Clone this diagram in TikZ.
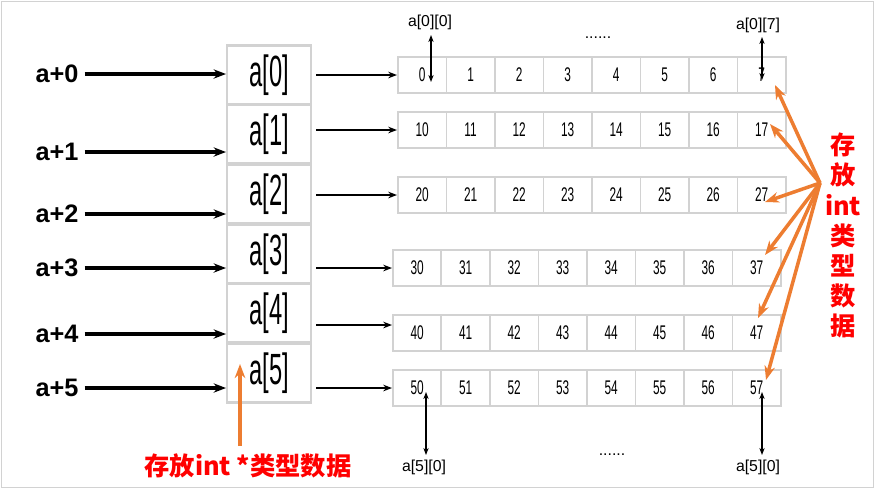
\documentclass[tikz,border=0pt]{standalone}
\usepackage{fontspec}
\setmainfont{Liberation Sans}
\newfontfamily\cjk{Noto Sans CJK SC}
\usetikzlibrary{arrows.meta,positioning,calc}
\definecolor{cellgray}{RGB}{210,210,210}
\definecolor{arroworange}{RGB}{237,125,49}
\tikzset{
  cellbox/.style={draw=cellgray, line width=1pt, minimum width=0.97cm, minimum height=0.72cm, inner sep=0pt, font=\small},
  ptrbox/.style={draw=cellgray, line width=1.2pt, minimum width=1.68cm, minimum height=1.18cm, inner sep=0pt, font=\huge},
  ptrlabel/.style={font=\Large\bfseries},
  thinarrow/.style={-{Stealth[length=5pt]}, line width=0.8pt},
  thickarrow/.style={-{Stealth[length=7pt]}, line width=2pt},
  dblarrow/.style={{Stealth[length=4pt]}-{Stealth[length=4pt]}, line width=0.8pt},
  orangearrow/.style={-{Stealth[length=8pt]}, line width=2pt, draw=arroworange},
  redtext/.style={text=red, font=\cjk\Large\bfseries}
}
\begin{document}
\begin{tikzpicture}[x=0.02cm, y=-0.02cm]
\useasboundingbox (0,0) rectangle (874,488);
\draw[cellgray] (1,1) rectangle (873,487);
% pointer column and the rows it points to
\foreach \i/\py/\ly/\ay/\rx/\ry in {0/75/74/75/397/75, 1/134/152/130/397/130, 2/194/214/195/397/195, 3/254/268/268/392/268, 4/313/334/325/392/333, 5/373/388/388/392/388}{
  \node[ptrbox] (p\i) at (269,\py) {\scalebox{0.65}[1.2]{a[\i]}};
  \node[ptrlabel] (l\i) at (57,\ly) {a+\i};
  \draw[thickarrow] (l\i.east) -- (226,\ly);
  \foreach \j in {0,...,7}{
    \node[cellbox, anchor=west] (c\i\j) at ({\rx+\j*48.5},\ry) {\scalebox{0.75}[1.25]{\ifnum\i=0 \j\else\i\j\fi}};
  }
  \draw[thinarrow] (316,\ay) -- (c\i0.west |- 0,\ay);
}
% corner elements
\node (t00) at (430,22) {\small a[0][0]};
\node (t07) at (758,25) {\small a[0][7]};
\node (b50) at (424,467) {\small a[5][0]};
\node (b57) at (758,467) {\small a[5][0]};
\node (dtop) at (598,38) {\small ......};
\node (dbot) at (612,455) {\small ......};
\draw[dblarrow] (431,35) -- (431,82);
\draw[dblarrow] (762,37) -- (762,80);
\draw[dblarrow] (426,392) -- (426,455);
\draw[dblarrow] (762,392) -- (762,455);
% element type
\coordinate (hub) at (820,183);
\foreach \x/\y in {775/85, 770/124, 765/202, 765/255, 758/318, 766/380}
  \draw[orangearrow] (hub) -- (\x,\y);
\foreach \t [count=\k from 0] in {存,放,int,类,型,数,据}
  \node[redtext] (e\k) at (843,{145+\k*30.2}) {\t};
% pointer type
\node[redtext] (ptype) at (248,466) {存放int *类型数据};
\draw[orangearrow] (240,446) -- (240,364);
\end{tikzpicture}
\end{document}
